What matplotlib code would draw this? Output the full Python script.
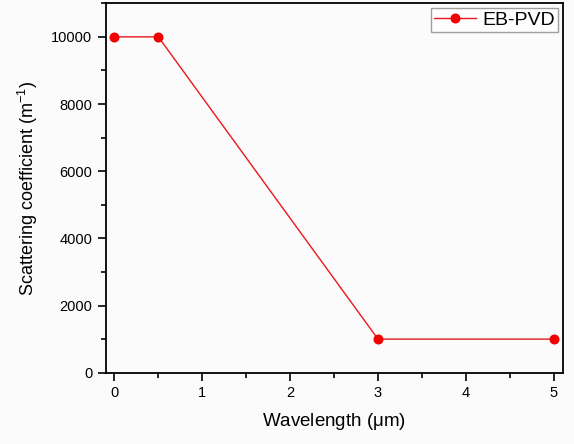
import matplotlib
matplotlib.use("Agg")
import matplotlib.pyplot as plt
from matplotlib.ticker import MultipleLocator

plt.rcParams['font.family'] = ['Liberation Sans', 'DejaVu Sans']
plt.rcParams['mathtext.fontset'] = 'custom'
plt.rcParams['mathtext.rm'] = 'Liberation Sans'
plt.rcParams['mathtext.it'] = 'Liberation Sans'

wavelength = [0, 0.5, 3, 5]
scattering = [10000, 10000, 1000, 1000]
series_label = "EB-PVD"

fig = plt.figure(figsize=(5.74, 4.44), dpi=100)
fig.patch.set_facecolor('#fbfbfb')
ax = fig.add_axes([0.184, 0.1606, 0.796, 0.832])
ax.set_facecolor('#fbfbfb')
ax.plot(wavelength, scattering, color='#e8181c', lw=1.0, marker='o', ms=6.2,
        markerfacecolor='#f00000', markeredgecolor='#f00000', label=series_label)
ax.set_xlim(-0.1, 5.1)
ax.set_ylim(0, 11000)
ax.xaxis.set_major_locator(MultipleLocator(1))
ax.xaxis.set_minor_locator(MultipleLocator(0.5))
ax.yaxis.set_major_locator(MultipleLocator(2000))
ax.yaxis.set_minor_locator(MultipleLocator(1000))
ax.tick_params(which='both', direction='out', width=1.2, labelsize=10.5)
ax.tick_params(which='major', length=6)
ax.tick_params(which='minor', length=3.5)
for s in ax.spines.values():
    s.set_linewidth(1.3)
ax.set_xlabel(r"Wavelength ($\mu$m)", fontsize=13.5, labelpad=8)
ax.set_ylabel(r"Scattering coefficient (m$^{-1}$)", fontsize=13, labelpad=8)
leg = ax.legend(loc='upper right', fontsize=14, frameon=True, fancybox=False,
                borderaxespad=0.25, handlelength=2.2, handletextpad=0.3,
                borderpad=0.15)
leg.get_frame().set_edgecolor('#888888')
leg.get_frame().set_linewidth(1.0)
fig.savefig("out.png", dpi=100, facecolor=fig.get_facecolor())
